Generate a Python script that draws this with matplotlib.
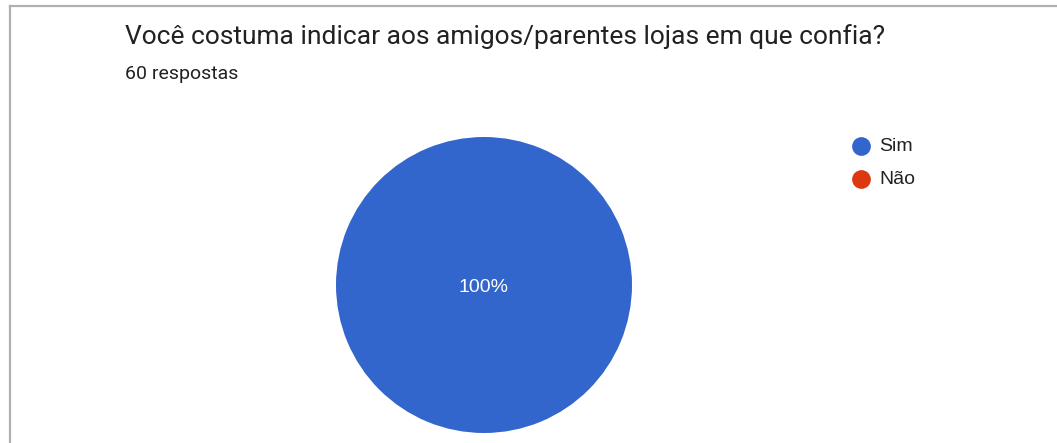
import matplotlib
matplotlib.use("Agg")
import numpy as np
import matplotlib.pyplot as plt
from matplotlib.lines import Line2D

# Chart data
title = "Você costuma indicar aos amigos/parentes lojas em que confia?"
subtitle = "60 respostas"
categories = ["Sim", "Não"]
counts = [60, 0]
colors = ["#3366cc", "#dc3912"]

plt.rcParams["font.family"] = ["Roboto", "DejaVu Sans"]
arial = ["Liberation Sans", "DejaVu Sans"]

W, H = 1057, 443
fig = plt.figure(figsize=(W / 100, H / 100), dpi=100)
fig.patch.set_facecolor("white")

# card border (top and left edges visible)
fig.add_artist(Line2D([9.5 / W, 1], [1 - 6 / H, 1 - 6 / H], color="#b0b0b0", lw=1.6))
fig.add_artist(Line2D([9.5 / W, 9.5 / W], [0, 1 - 6 / H], color="#b0b0b0", lw=1.6))

fig.text(125 / W, 1 - 44 / H, title, fontsize=19, color="#212121", va="baseline")
fig.text(125 / W, 1 - 79 / H, subtitle, fontsize=14, color="#212121", va="baseline")

# pie
cx, cy, r = 484, 285, 148
ax = fig.add_axes([(cx - r) / W, 1 - (cy + r) / H, 2 * r / W, 2 * r / H])
wedges, _ = ax.pie(counts, colors=colors, startangle=90, counterclock=False,
                   radius=1, wedgeprops=dict(linewidth=0))
ax.set_xlim(-1, 1)
ax.set_ylim(-1, 1)
ax.set_aspect("equal")
ax.axis("off")

total = sum(counts)
for w, c in zip(wedges, counts):
    if c > 0:
        pct = c / total * 100
        if pct >= 99.99:
            x, y = 0, 0
        else:
            ang = np.deg2rad((w.theta1 + w.theta2) / 2)
            x, y = 0.6 * np.cos(ang), 0.6 * np.sin(ang)
        ax.text(x, y - 7 / r, f"{pct:.0f}%", color="white", fontsize=14,
                family=arial, ha="center", va="baseline")

# legend
for i, (lab, col) in enumerate(zip(categories, colors)):
    ym = 146 + 33 * i
    fig.add_artist(Line2D([861 / W], [1 - ym / H], marker="o", markersize=13.5,
                          color=col, markeredgewidth=0, linestyle="none"))
    fig.text(879 / W, 1 - (ym + 5) / H, lab, fontsize=14, family=arial,
             color="#222222", va="baseline")

fig.savefig("out.png", dpi=100, facecolor="white")
